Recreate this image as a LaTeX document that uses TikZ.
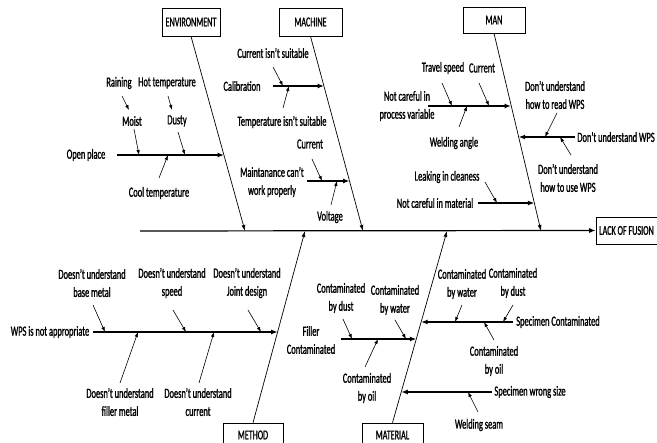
\documentclass[tikz,border=0pt]{standalone}
\usepackage{fontspec}
\setmainfont{Carlito}[FakeStretch=0.6,FakeBold=1.2]
\usetikzlibrary{arrows.meta}
\begin{document}
\begin{tikzpicture}[x=1pt,y=-1pt,
  txt/.style={inner sep=0pt,align=center,font=\fontsize{14}{18}\selectfont},
  catbox/.style={draw,line width=0.6pt,inner sep=0pt,minimum height=28pt,font=\fontsize{13.5}{14}\selectfont},
  bone/.style={line width=0.7pt,-{Latex[length=6pt,width=4pt]}},
  sub/.style={line width=1.2pt,-{Latex[length=6.5pt,width=5pt]}},
  sarr/.style={line width=0.6pt,-{Latex[length=5pt,width=3.5pt]}},
  spine/.style={line width=1.2pt,-{Latex[length=6.5pt,width=5pt]}}]
\useasboundingbox (0,0) rectangle (657,443);
% category boxes
\node[catbox,minimum width=58pt] (env) at (191,22) {ENVIRONMENT};
\node[catbox,minimum width=63pt] (mac) at (310.5,22) {MACHINE};
\node[catbox,minimum width=62pt,minimum height=26pt] (man) at (494,20) {MAN};
\node[catbox,minimum width=60pt,text depth=0pt,text height=0pt] (met) at (253,437) {};
\node[txt,font=\fontsize{13.5}{14}\selectfont] (metT) at (253,435) {METHOD};
\node[catbox,minimum width=61pt,text depth=0pt,text height=0pt] (mat) at (392.5,437) {};
\node[txt,font=\fontsize{13.5}{14}\selectfont] (matT) at (392.5,435) {MATERIAL};
\node[catbox,minimum width=61pt,minimum height=27pt] (lof) at (626.5,230.5) {LACK OF FUSION};
% spine
\coordinate (sp0) at (140,231);
\draw[spine] (sp0) -- (lof.west);
% bone end points
\coordinate (envE) at (245,231);
\coordinate (macE) at (363,231);
\coordinate (manE) at (541,231);
\coordinate (metE) at (305,231);
\coordinate (matE) at (447,231);
\draw[bone] (env.south) -- (envE);
\draw[bone] (mac.south) -- (macE);
\draw[bone] (man.south) -- (manE);
\draw[bone] (met.north) -- (metE);
\draw[bone] (mat.north) -- (matE);

% ---------- ENVIRONMENT ----------
\node[txt] (op) at (86,155) {Open place};
\node[txt] (moist) at (132,121) {Moist};
\node[txt] (rain) at (119,83) {Raining};
\node[txt] (hot) at (167,83) {Hot temperature};
\node[txt] (dusty) at (177,121) {Dusty};
\node[txt] (cool) at (159,193) {Cool temperature};
\coordinate (opS) at (117,155); \coordinate (opE) at (224,155);
\draw[sub] (opS) -- (opE);
\coordinate (rA) at (122,96); \coordinate (rB) at (129,110);
\coordinate (mA) at (134,129); \coordinate (mB) at (139,155);
\coordinate (hA) at (168,96); \coordinate (hB) at (172,110);
\coordinate (dA) at (178,132); \coordinate (dB) at (185,155);
\coordinate (cA) at (159,178); \coordinate (cB) at (168,155);
\draw[sarr] (rA) -- (rB);
\draw[sarr] (mA) -- (mB);
\draw[sarr] (hA) -- (hB);
\draw[sarr] (dA) -- (dB);
\draw[sarr] (cA) -- (cB);

% ---------- MACHINE ----------
\node[txt] (cis) at (273,53) {Current isn’t suitable};
\node[txt] (cal) at (242,86) {Calibration};
\node[txt] (tis) at (282,122) {Temperature isn’t suitable};
\node[txt] (cur) at (310,144) {Current};
\node[txt] (mcw) at (272,182) {Maintanance can’t\\work properly};
\node[txt] (volt) at (330,217) {Voltage};
\coordinate (calS) at (273,86); \coordinate (calE) at (324,86);
\coordinate (mcwS) at (307,181); \coordinate (mcwE) at (349.5,181);
\draw[sub] (calS) -- (calE);
\draw[sub] (mcwS) -- (mcwE);
\coordinate (cisA) at (273,67); \coordinate (cisB) at (283,86);
\coordinate (tisA) at (283,108); \coordinate (tisB) at (289,86);
\coordinate (curA) at (312,159); \coordinate (curB) at (322,181);
\coordinate (volA) at (331,205); \coordinate (volB) at (337,181);
\draw[sarr] (cisA) -- (cisB);
\draw[sarr] (tisA) -- (tisB);
\draw[sarr] (curA) -- (curB);
\draw[sarr] (volA) -- (volB);

% ---------- MAN ----------
\node[txt] (ts) at (443,68) {Travel speed};
\node[txt] (cu2) at (482,68) {Current};
\node[txt] (ncp) at (407,106) {Not careful in\\process variable};
\node[txt] (wa) at (454,143) {Welding angle};
\node[txt] (dur) at (555,95) {Don’t understand\\how to read WPS};
\node[txt] (duw) at (616,137) {Don’t understand WPS};
\node[txt] (duu) at (568,178) {Don’t understand\\how to use WPS};
\node[txt] (lic) at (447,177) {Leaking in cleaness};
\node[txt] (ncm) at (435,203) {Not careful in material};
\coordinate (ncpS) at (428,106); \coordinate (ncpE) at (511,106);
\coordinate (duwS) at (575,137); \coordinate (duwE) at (518.7,137);
\coordinate (ncmS) at (478,203); \coordinate (ncmE) at (534.3,203);
\draw[sub] (ncpS) -- (ncpE);
\draw[sub] (duwS) -- (duwE);
\draw[sub] (ncmS) -- (ncmE);
\coordinate (tsA) at (442,83); \coordinate (tsB) at (452,106);
\coordinate (cu2A) at (479,83); \coordinate (cu2B) at (489,106);
\coordinate (waA) at (459,127); \coordinate (waB) at (467,106);
\coordinate (durA) at (557,113); \coordinate (durB) at (545,137);
\coordinate (duuA) at (571,155); \coordinate (duuB) at (560,137);
\coordinate (licA) at (485,182); \coordinate (licB) at (497,203);
\draw[sarr] (tsA) -- (tsB);
\draw[sarr] (cu2A) -- (cu2B);
\draw[sarr] (waA) -- (waB);
\draw[sarr] (durA) -- (durB);
\draw[sarr] (duuA) -- (duuB);
\draw[sarr] (licA) -- (licB);

% ---------- METHOD ----------
\node[txt] (wps) at (50,332) {WPS is not appropriate};
\node[txt] (dbm) at (92,283) {Doesn’t understand\\base metal};
\node[txt] (dsp) at (172,283) {Doesn’t understand\\speed};
\node[txt] (djd) at (247,283) {Doesn’t understand\\Joint design};
\node[txt] (dfm) at (120,402) {Doesn’t understand\\filler metal};
\node[txt] (dcu) at (198,402) {Doesn’t understand\\current};
\coordinate (wpsS) at (93,332); \coordinate (wpsE) at (277.6,332);
\draw[sub] (wpsS) -- (wpsE);
\coordinate (dbmA) at (93,305); \coordinate (dbmB) at (105,332);
\coordinate (dspA) at (173,310); \coordinate (dspB) at (186,332);
\coordinate (djdA) at (248,310); \coordinate (djdB) at (261,332);
\coordinate (dfmA) at (120,383); \coordinate (dfmB) at (138,332);
\coordinate (dcuA) at (199,383); \coordinate (dcuB) at (214,332);
\draw[sarr] (dbmA) -- (dbmB);
\draw[sarr] (dspA) -- (dspB);
\draw[sarr] (djdA) -- (djdB);
\draw[sarr] (dfmA) -- (dfmB);
\draw[sarr] (dcuA) -- (dcuB);

% ---------- MATERIAL ----------
\node[txt] (fc) at (311,340) {Filler\\Contaminated};
\node[txt] (cd1) at (341,298) {Contaminated\\by dust};
\node[txt] (cw1) at (395,300) {Contaminated\\by water};
\node[txt] (co1) at (367,388) {Contaminated\\by oil};
\node[txt] (sc) at (558,322) {Specimen Contaminated};
\node[txt] (cw2) at (462,284) {Contaminated\\by water};
\node[txt] (cd2) at (513,283) {Contaminated\\by dust};
\node[txt] (co2) at (494,361) {Contaminated\\by oil};
\node[txt] (sws) at (530,392) {Specimen wrong size};
\node[txt] (ws) at (479,425) {Welding seam};
\coordinate (fcS) at (341,339); \coordinate (fcE) at (416.3,339);
\coordinate (scS) at (513,322); \coordinate (scE) at (421.2,322);
\coordinate (swsS) at (492,392); \coordinate (swsE) at (401.3,392);
\draw[sub] (fcS) -- (fcE);
\draw[sub] (scS) -- (scE);
\draw[sub] (swsS) -- (swsE);
\coordinate (cd1A) at (343,319); \coordinate (cd1B) at (352,339);
\coordinate (cw1A) at (395,320); \coordinate (cw1B) at (406,339);
\coordinate (co1A) at (365,367); \coordinate (co1B) at (378,339);
\coordinate (cw2A) at (462,305); \coordinate (cw2B) at (455,322);
\coordinate (cd2A) at (513,305); \coordinate (cd2B) at (503,322);
\coordinate (co2A) at (494,340); \coordinate (co2B) at (484,322);
\coordinate (wsA) at (478,412); \coordinate (wsB) at (468,392);
\draw[sarr] (cd1A) -- (cd1B);
\draw[sarr] (cw1A) -- (cw1B);
\draw[sarr] (co1A) -- (co1B);
\draw[sarr] (cw2A) -- (cw2B);
\draw[sarr] (cd2A) -- (cd2B);
\draw[sarr] (co2A) -- (co2B);
\draw[sarr] (wsA) -- (wsB);
\end{tikzpicture}
\end{document}
